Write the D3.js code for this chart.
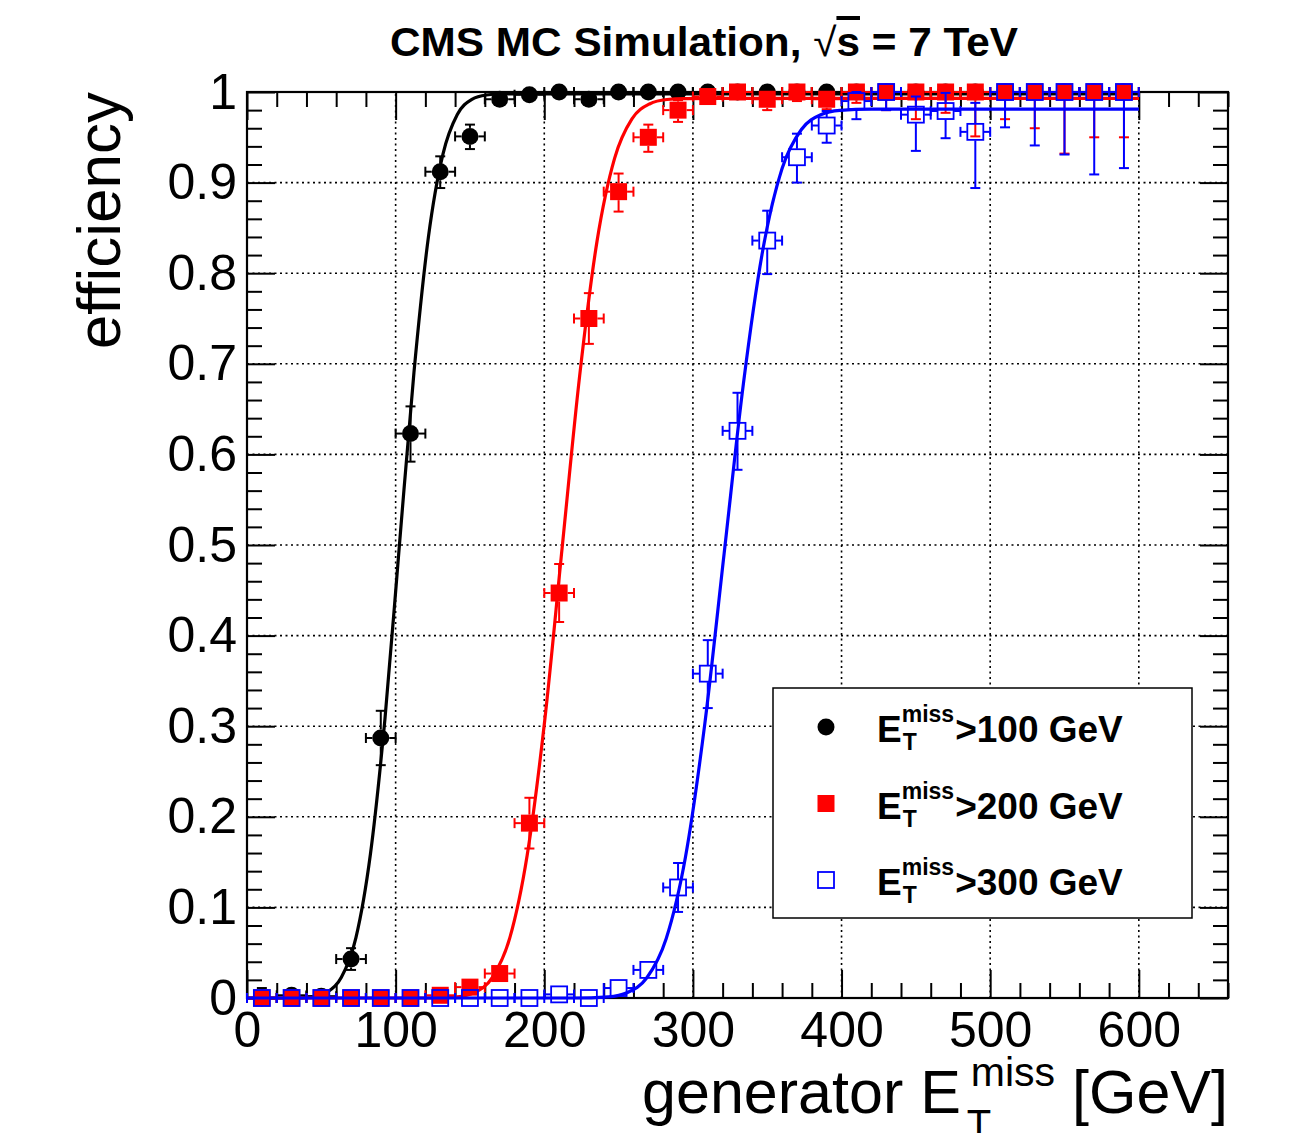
<!DOCTYPE html>
<html>
<head>
<meta charset="utf-8">
<script src="https://cdn.jsdelivr.net/npm/d3@7"></script>
<style>
body{margin:0;background:#fff}
svg{display:block}
text{font-family:"Liberation Sans",Arial,Helvetica,sans-serif}
</style>
</head>
<body>
<svg id="chart" width="1313" height="1133"></svg>
<script>
// bin centres (20 GeV bins)
const binCenters = [10,30,50,70,90,110,130,150,170,190,210,230,250,270,290,310,330,350,370,390,410,430,450,470,490,510,530,550,570,590];

// MET > 100 GeV
const effA   = [0,0.003,0.002,0.043,0.287,0.623,0.912,0.951,0.992,0.997,1,0.992,1,1,1,1,1,1,1,1,1,1,1,1,1,1,1,1,1,1];
const errHiA = [0.011,0.004,0.004,0.012,0.03,0.03,0.017,0.013,0.004,0.002,0,0.004,0,0,0,0,0,0,0,0,0,0,0,0,0,0,0,0,0,0];
const errLoA = [0,0.003,0.002,0.012,0.03,0.031,0.018,0.014,0.006,0.004,0.003,0.006,0.003,0.003,0.003,0.003,0.003,0.003,0.003,0.003,0.003,0.003,0.003,0.003,0.003,0.003,0.003,0.003,0.003,0.003];

// MET > 200 GeV
const effB   = [0,0,0,0,0,0,0.003,0.012,0.027,0.193,0.447,0.75,0.89,0.95,0.98,0.995,1,0.992,1,0.992,1,1,1,1,1,1,1,1,1,1];
const errHiB = [0,0,0,0,0,0,0.004,0.006,0.008,0.028,0.032,0.028,0.02,0.014,0.011,0.004,0,0.006,0,0.006,0,0,0,0,0,0,0,0,0,0];
const errLoB = [0,0,0,0,0,0,0.003,0.006,0.008,0.028,0.032,0.028,0.022,0.016,0.013,0.006,0.004,0.012,0.01,0.011,0.012,0.02,0.03,0.023,0.049,0.03,0.04,0.068,0.05,0.05];

// MET > 300 GeV
const effC   = [0,0,0,0,0,0,0,0,0,0,0.004,0,0.011,0.031,0.122,0.358,0.626,0.836,0.928,0.963,0.99,1,0.975,0.979,0.956,1,1,1,1,1];
const errHiC = [0,0,0,0,0,0,0,0,0,0,0.004,0,0.006,0.009,0.027,0.037,0.042,0.033,0.026,0.016,0.01,0,0.02,0.02,0.032,0,0,0,0,0];
const errLoC = [0,0,0,0,0,0,0,0,0,0,0.004,0,0.006,0.009,0.027,0.038,0.043,0.037,0.028,0.019,0.02,0.02,0.04,0.03,0.062,0.039,0.059,0.069,0.091,0.084];

// fitted turn-on curves
const fitAx = [0,30,44,53.8,63.5,73.3,83,92.8,102.5,112.3,122,131.8,141.5,151.3,161,170.8,200,600];
const fitAy = [0,0,0.0013,0.0062,0.0228,0.0667,0.1584,0.3079,0.499,0.6901,0.8393,0.9312,0.9752,0.9918,0.9967,0.9978,0.998,0.998];
const fitBx = [0,120,141.5,153.3,165,176.8,188.5,200.3,212,223.8,235.5,247.3,259,270.8,282.5,294.3,320,600];
const fitBy = [0,0,0.0013,0.0062,0.0226,0.0663,0.1576,0.3063,0.4965,0.6867,0.8354,0.9267,0.9703,0.9868,0.9917,0.9927,0.993,0.993];
const fitCx = [0,220,243,256,269,282,295,308,321,334,347,360,373,386,399,420,600];
const fitCy = [0,0,0.0013,0.0061,0.0224,0.0655,0.1557,0.3026,0.4905,0.6784,0.8253,0.9155,0.9586,0.9749,0.9797,0.981,0.981];

const xMajor = [0,100,200,300,400,500,600];
const yMajor = [0,0.1,0.2,0.3,0.4,0.5,0.6,0.7,0.8,0.9,1];
const legendLabels = [">100 GeV", ">200 GeV", ">300 GeV"];

var svg = d3.select('#chart');
svg.append('rect').attr('width',1313).attr('height',1133).attr('fill','#fff');

var x = d3.scaleLinear().domain([0,660]).range([247,1228]);
var y = d3.scaleLinear().domain([0,1]).range([998,92]);

var xMinor = d3.range(0,661,20).filter(function(d){return d%100!==0});
var yMinor = d3.range(0,51,1).map(function(d){return d/50}).filter(function(d){return Math.round(d*50)%5!==0});

// grid
var grid = svg.append('g').attr('stroke','#000').attr('stroke-width',1.6).attr('stroke-dasharray','2,3.5');
grid.selectAll('line.gx').data(xMajor.filter(function(d){return d>0})).enter().append('line')
	.attr('x1',function(d){return x(d)}).attr('x2',function(d){return x(d)})
	.attr('y1',y(0)).attr('y2',y(1));
grid.selectAll('line.gy').data(yMajor.filter(function(d){return d>0 && d<1})).enter().append('line')
	.attr('y1',function(d){return y(d)}).attr('y2',function(d){return y(d)})
	.attr('x1',x(0)).attr('x2',x(660));

// axes with inward ticks
function styleAxis(g){
	g.select('.domain').remove();
	g.selectAll('line').attr('stroke','#000').attr('stroke-width',2);
	g.selectAll('text').attr('font-size',50).attr('fill','#000').attr('font-family','"Liberation Sans",Arial,sans-serif');
}
svg.append('g').attr('transform','translate(0,'+y(0)+')')
	.call(d3.axisBottom(x).tickValues(xMajor).tickSizeInner(-28).tickSizeOuter(0).tickPadding(13).tickFormat(d3.format('d')))
	.call(styleAxis);
svg.append('g').attr('transform','translate(0,'+y(0)+')')
	.call(d3.axisBottom(x).tickValues(xMinor).tickSizeInner(-15).tickSizeOuter(0).tickFormat(''))
	.call(styleAxis);
svg.append('g').attr('transform','translate(0,'+y(1)+')')
	.call(d3.axisTop(x).tickValues(xMajor).tickSizeInner(-28).tickSizeOuter(0).tickFormat(''))
	.call(styleAxis);
svg.append('g').attr('transform','translate(0,'+y(1)+')')
	.call(d3.axisTop(x).tickValues(xMinor).tickSizeInner(-15).tickSizeOuter(0).tickFormat(''))
	.call(styleAxis);
svg.append('g').attr('transform','translate('+x(0)+',0)')
	.call(d3.axisLeft(y).tickValues(yMajor).tickSizeInner(-28).tickSizeOuter(0).tickPadding(10)
		.tickFormat(function(d){return (d===0||d===1)?String(d):d3.format('.1f')(d)}))
	.call(styleAxis);
svg.append('g').attr('transform','translate('+x(0)+',0)')
	.call(d3.axisLeft(y).tickValues(yMinor).tickSizeInner(-15).tickSizeOuter(0).tickFormat(''))
	.call(styleAxis);
svg.append('g').attr('transform','translate('+x(660)+',0)')
	.call(d3.axisRight(y).tickValues(yMajor).tickSizeInner(-28).tickSizeOuter(0).tickFormat(''))
	.call(styleAxis);
svg.append('g').attr('transform','translate('+x(660)+',0)')
	.call(d3.axisRight(y).tickValues(yMinor).tickSizeInner(-15).tickSizeOuter(0).tickFormat(''))
	.call(styleAxis);

// frame
svg.append('rect').attr('x',x(0)).attr('y',y(1)).attr('width',x(660)-x(0)).attr('height',y(0)-y(1))
	.attr('fill','none').attr('stroke','#000').attr('stroke-width',2.2);

// one data series: error bars (outside marker), marker, fit
var line = d3.line().x(function(d){return x(d[0])}).y(function(d){return y(d[1])}).curve(d3.curveMonotoneX);

function drawSeries(vals, lo, hi, fx, fy, color, marker){
	var g = svg.append('g');
	var half = 8.5, cap = 5;
	var data = binCenters.map(function(c,i){return {c:c, v:vals[i], lo:lo[i], hi:hi[i]}});
	var segs = [];
	data.forEach(function(d){
		var px = x(d.c), py = y(d.v);
		var xl = x(d.c-10), xr = x(d.c+10);
		segs.push([xl,py,px-half,py],[px+half,py,xr,py],[xl,py-cap,xl,py+cap],[xr,py-cap,xr,py+cap]);
		var yt = y(d.v+d.hi), yb = y(d.v-d.lo);
		if (py-yt > half){ segs.push([px,py-half,px,yt],[px-cap,yt,px+cap,yt]); }
		if (yb-py > half){ segs.push([px,py+half,px,yb],[px-cap,yb,px+cap,yb]); }
	});
	g.selectAll('line').data(segs).enter().append('line')
		.attr('x1',function(s){return s[0]}).attr('y1',function(s){return s[1]})
		.attr('x2',function(s){return s[2]}).attr('y2',function(s){return s[3]})
		.attr('stroke',color).attr('stroke-width',2);
	drawMarkers(g, data.map(function(d){return [x(d.c),y(d.v)]}), color, marker);
	g.append('path').datum(fx.map(function(v,i){return [v,fy[i]]}))
		.attr('d',line).attr('fill','none').attr('stroke',color).attr('stroke-width',3.2);
}
function drawMarkers(g, pts, color, marker){
	if (marker==='circle'){
		g.selectAll('circle.m').data(pts).enter().append('circle')
			.attr('cx',function(p){return p[0]}).attr('cy',function(p){return p[1]}).attr('r',8.5).attr('fill',color);
	} else if (marker==='square'){
		g.selectAll('rect.m').data(pts).enter().append('rect')
			.attr('x',function(p){return p[0]-8.5}).attr('y',function(p){return p[1]-8.5})
			.attr('width',17).attr('height',17).attr('fill',color);
	} else {
		g.selectAll('rect.m').data(pts).enter().append('rect')
			.attr('x',function(p){return p[0]-8}).attr('y',function(p){return p[1]-8})
			.attr('width',16).attr('height',16).attr('fill','none').attr('stroke',color).attr('stroke-width',1.8);
	}
}

drawSeries(effA, errLoA, errHiA, fitAx, fitAy, '#000', 'circle');
drawSeries(effB, errLoB, errHiB, fitBx, fitBy, '#ff0000', 'square');
drawSeries(effC, errLoC, errHiC, fitCx, fitCy, '#0000ff', 'open');

// legend
var leg = svg.append('g');
leg.append('rect').attr('x',773).attr('y',688).attr('width',419).attr('height',230)
	.attr('fill','#fff').attr('stroke','#000').attr('stroke-width',1.5);
var legColors = ['#000','#ff0000','#0000ff'];
var legMarkers = ['circle','square','open'];
legendLabels.forEach(function(lab,i){
	var cy = 727 + i*76.5;
	drawMarkers(leg, [[826,cy]], legColors[i], legMarkers[i]);
	var e = leg.append('text').attr('x',877).attr('y',cy+15).attr('font-size',37).attr('font-weight','bold').text('E');
	var ew = e.node().getComputedTextLength();
	var sup = leg.append('text').attr('x',877+ew).attr('y',cy-5).attr('font-size',23).attr('font-weight','bold').text('miss');
	leg.append('text').attr('x',877+ew+1).attr('y',cy+23).attr('font-size',23).attr('font-weight','bold').text('T');
	var sw = sup.node().getComputedTextLength();
	leg.append('text').attr('x',877+ew+sw+1).attr('y',cy+15).attr('font-size',37).attr('font-weight','bold').text(lab);
});

// title
var title = svg.append('text').attr('x',704).attr('y',56).attr('text-anchor','middle')
	.attr('font-size',40).attr('font-weight','bold')
	.attr('textLength',628).attr('lengthAdjust','spacingAndGlyphs');
title.append('tspan').text('CMS MC Simulation, ');
title.append('tspan').attr('font-weight','normal').text('\u221A');
title.append('tspan').style('text-decoration','overline').text('s');
title.append('tspan').text(' = 7 TeV');

// y title
svg.append('text').attr('transform','translate(120,92) rotate(-90)').attr('text-anchor','end')
	.attr('font-size',62).text('efficiency');

// x title: "generator E_T^miss [GeV]" right-aligned to axis end
var xt = svg.append('g');
var t1 = xt.append('text').attr('y',1113).attr('font-size',61).text('generator E');
var w1 = t1.node().getComputedTextLength();
var t2 = xt.append('text').attr('y',1086).attr('font-size',41).text('miss');
var w2 = t2.node().getComputedTextLength();
var t3 = xt.append('text').attr('y',1138).attr('font-size',40).text('T');
var t4 = xt.append('text').attr('y',1113).attr('font-size',61).text('\u00A0[GeV]');
var w4 = t4.node().getComputedTextLength();
var gap = 10;
var x0 = 1228 - (w1 + gap + w2 + w4);
t1.attr('x',x0); t2.attr('x',x0+w1+gap); t3.attr('x',x0+w1+6); t4.attr('x',x0+w1+gap+w2);
</script>
</body>
</html>
